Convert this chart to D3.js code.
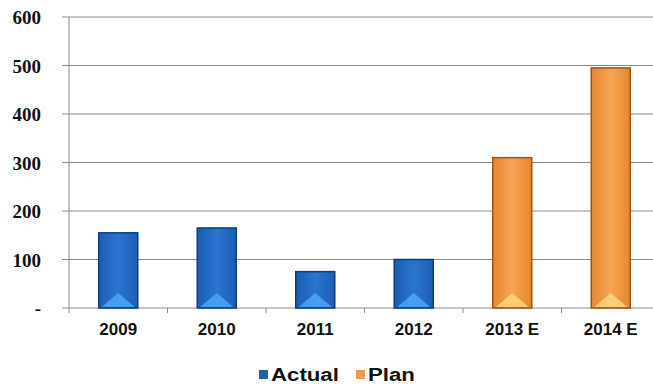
<!DOCTYPE html>
<html>
<head>
<meta charset="utf-8">
<script src="https://cdn.jsdelivr.net/npm/d3@7"></script>
<style>
  body { margin: 0; background: #fff; }
  text { font-family: "Liberation Sans", Arial, sans-serif; font-weight: bold; fill: #111; }
</style>
</head>
<body>
<div id="chart"></div>
<script>
const categories = ["2009", "2010", "2011", "2012", "2013 E", "2014 E"];
const values = [155, 165, 75, 100, 310, 495];
const series = ["Actual", "Actual", "Actual", "Actual", "Plan", "Plan"];
const yTicks = [0, 100, 200, 300, 400, 500, 600];

const width = 653, height = 385;
const margin = { top: 17, left: 69, bottom: 77 };

const svg = d3.select("#chart").append("svg")
    .attr("width", width).attr("height", height);

const x = d3.scaleBand().domain(categories).range([margin.left, 660]);
const y = d3.scaleLinear().domain([0, 600]).range([308, margin.top]);

const colors = {
    Actual: { dark: "#0d3c7a", mid: "#1c5db5", light: "#2a74cf", tri: "#4aa3f2" },
    Plan: { dark: "#9a5418", mid: "#e8862e", light: "#f7a455", tri: "#ffd27a" }
};

const defs = svg.append("defs");
Object.entries(colors).forEach(([k, c]) => {
    const g = defs.append("linearGradient").attr("id", "grad-" + k)
        .attr("x1", 0).attr("x2", 1).attr("y1", 0).attr("y2", 0);
    g.append("stop").attr("offset", "0%").attr("stop-color", c.mid);
    g.append("stop").attr("offset", "50%").attr("stop-color", c.light);
    g.append("stop").attr("offset", "100%").attr("stop-color", c.mid);
});

// grid lines
svg.append("g").selectAll("line")
    .data(yTicks)
    .join("line")
    .attr("x1", margin.left - 7).attr("x2", width)
    .attr("y1", d => y(d)).attr("y2", d => y(d))
    .attr("stroke", "#8a8a8a").attr("stroke-width", 1);

// y axis line
svg.append("line")
    .attr("x1", margin.left).attr("x2", margin.left)
    .attr("y1", y(600)).attr("y2", y(0) + 5)
    .attr("stroke", "#8a8a8a");

// category ticks
svg.append("g").selectAll("line")
    .data(categories.slice(1))
    .join("line")
    .attr("x1", d => x(d)).attr("x2", d => x(d))
    .attr("y1", y(0)).attr("y2", y(0) + 5)
    .attr("stroke", "#8a8a8a");

// y labels
svg.append("g").selectAll("text")
    .data(yTicks)
    .join("text")
    .attr("x", 41).attr("y", d => y(d) + 7)
    .attr("text-anchor", "end")
    .style("font-family", "'Liberation Serif', serif")
    .style("font-size", "19px")
    .text(d => d === 0 ? "-" : d);

// bars
const bw = 39;
const bars = svg.append("g").selectAll("g")
    .data(categories.map((c, i) => ({ c, v: values[i], s: series[i] })))
    .join("g");

bars.append("rect")
    .attr("x", d => x(d.c) + x.bandwidth() / 2 - bw / 2)
    .attr("y", d => y(d.v))
    .attr("width", bw)
    .attr("height", d => y(0) - y(d.v))
    .attr("fill", d => `url(#grad-${d.s})`)
    .attr("stroke", d => colors[d.s].dark)
    .attr("stroke-width", 1.5);

bars.append("path")
    .attr("d", d => {
        const cx = x(d.c) + x.bandwidth() / 2;
        const b = y(0) - 1;
        return `M${cx - bw / 2 + 3},${b} L${cx},${b - 14} L${cx + bw / 2 - 3},${b} Z`;
    })
    .attr("fill", d => colors[d.s].tri)
    .attr("opacity", 0.9);

// x labels
svg.append("g").selectAll("text")
    .data(categories)
    .join("text")
    .attr("x", d => x(d) + x.bandwidth() / 2)
    .attr("y", 335)
    .attr("text-anchor", "middle")
    .style("font-size", "17px")
    .text(d => d);

// legend
const legend = [{ name: "Actual", color: "#1f5fae" }, { name: "Plan", color: "#ee9a55" }];
const lx = [259, 356];
legend.forEach((d, i) => {
    svg.append("rect")
        .attr("x", lx[i]).attr("y", 370)
        .attr("width", 9).attr("height", 9)
        .attr("fill", d.color);
    svg.append("text")
        .attr("transform", `translate(${lx[i] + 12},381) scale(1.17,1)`)
        .style("font-size", "19px")
        .text(d.name);
});
</script>
</body>
</html>
